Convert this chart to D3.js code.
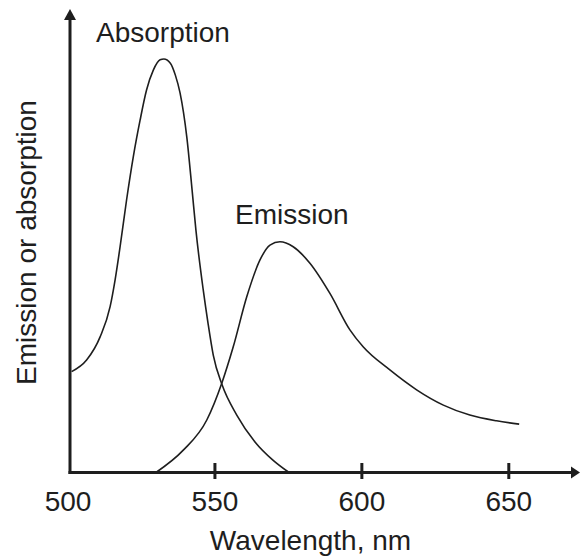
<!DOCTYPE html>
<html>
<head>
<meta charset="utf-8">
<script src="https://cdn.jsdelivr.net/npm/d3@7"></script>
<style>
  html, body { margin: 0; padding: 0; background: #fff; }
  svg { display: block; }
</style>
</head>
<body>
<div id="main"></div>
<script>
// data (wavelength in nm, intensity normalised to absorption peak)
var absorption_nm  = [501.4, 506.5, 511.1, 514.5, 516.2, 517.9, 520.1, 522.4, 524.7, 526.9, 529.2, 531.5, 532.8, 535.0, 536.7, 538.3, 540.6, 542.4, 543.7, 546.2, 547.8, 549.6, 552.6, 557.6, 563.8, 569.9, 575.4];
var absorption_val = [0.244, 0.272, 0.328, 0.401, 0.466, 0.546, 0.659, 0.764, 0.852, 0.925, 0.973, 0.998, 1.0, 0.990, 0.961, 0.918, 0.811, 0.683, 0.586, 0.441, 0.362, 0.284, 0.212, 0.139, 0.074, 0.030, 0.0];

var emission_nm  = [530.1, 539.4, 547.4, 552.5, 556.4, 561.0, 565.5, 568.9, 572.3, 576.8, 582.5, 589.3, 596.1, 600.6, 609.7, 618.8, 627.9, 636.9, 646.0, 653.7];
var emission_val = [0.0, 0.054, 0.127, 0.216, 0.304, 0.425, 0.514, 0.550, 0.558, 0.546, 0.506, 0.433, 0.345, 0.304, 0.248, 0.200, 0.163, 0.139, 0.125, 0.117];

var tick_values = [500, 550, 600, 650];
var x_title = "Wavelength, nm";
var y_title = "Emission or absorption";
var label_abs = "Absorption";
var label_em = "Emission";

// layout
var width = 580;
var height = 559;
var axis_x = 70;      // where the vertical axis sits
var axis_y = 472.5;   // where the horizontal axis sits
var ink = "#1e1e1e";
var font = "'Liberation Sans', Arial, Helvetica, sans-serif";

var x = d3.scaleLinear().domain([500, 650]).range([67.5, 508.3]);
var y = d3.scaleLinear().domain([0, 1]).range([axis_y, 59]);

var svg = d3.select("#main").append("svg")
    .attr("width", width)
    .attr("height", height)
    .attr("viewBox", "0 0 " + width + " " + height);

// curves
var line = d3.line()
    .x(function(d) { return x(d[0]); })
    .y(function(d) { return y(d[1]); })
    .curve(d3.curveMonotoneX);

var abs_pts = d3.zip(absorption_nm, absorption_val);
var em_pts = d3.zip(emission_nm, emission_val);

[abs_pts, em_pts].forEach(function(pts) {
    svg.append("path")
        .datum(pts)
        .attr("d", line)
        .attr("fill", "none")
        .attr("stroke", ink)
        .attr("stroke-width", 1.6)
        .attr("stroke-linejoin", "round");
});

// x axis: ticks via d3.axisBottom, domain line drawn separately with arrow
var xAxis = svg.append("g")
    .attr("transform", "translate(0," + axis_y + ")")
    .call(d3.axisBottom(x).tickValues(tick_values).tickSize(0).tickPadding(0).tickFormat(d3.format("d")));
xAxis.select(".domain").remove();
xAxis.selectAll(".tick text")
    .attr("y", 38.5)
    .attr("dy", null)
    .attr("fill", ink)
    .attr("font-family", font)
    .attr("font-size", "28px");
xAxis.selectAll(".tick").filter(function(d) { return d > 500; })
    .append("line")
    .attr("y1", -9.5).attr("y2", 6.5)
    .attr("stroke", ink)
    .attr("stroke-width", 3);

svg.append("line")
    .attr("x1", axis_x - 1.5).attr("y1", axis_y)
    .attr("x2", 574).attr("y2", axis_y)
    .attr("stroke", ink)
    .attr("stroke-width", 3);
svg.append("path")
    .attr("d", "M" + 580 + "," + axis_y + "L" + 571 + "," + (axis_y - 6) + "L" + 571 + "," + (axis_y + 6) + "Z")
    .attr("fill", ink);

// y axis with arrow
svg.append("line")
    .attr("x1", axis_x).attr("y1", axis_y + 1.5)
    .attr("x2", axis_x).attr("y2", 16)
    .attr("stroke", ink)
    .attr("stroke-width", 3);
svg.append("path")
    .attr("d", "M" + axis_x + ",9L" + (axis_x - 6) + ",20L" + (axis_x + 6) + ",20Z")
    .attr("fill", ink);

// titles
svg.append("text")
    .text(x_title)
    .attr("x", 310.5)
    .attr("y", 550)
    .attr("text-anchor", "middle")
    .attr("fill", ink)
    .attr("font-family", font)
    .attr("font-size", "28px");

svg.append("text")
    .text(y_title)
    .attr("transform", "translate(36,242.5) rotate(-90)")
    .attr("text-anchor", "middle")
    .attr("fill", ink)
    .attr("font-family", font)
    .attr("font-size", "28px");

// curve labels
svg.append("text")
    .text(label_abs)
    .attr("x", 96)
    .attr("y", 42)
    .attr("fill", ink)
    .attr("font-family", font)
    .attr("font-size", "28px");

svg.append("text")
    .text(label_em)
    .attr("x", 235)
    .attr("y", 224)
    .attr("fill", ink)
    .attr("font-family", font)
    .attr("font-size", "28px");
</script>
</body>
</html>
